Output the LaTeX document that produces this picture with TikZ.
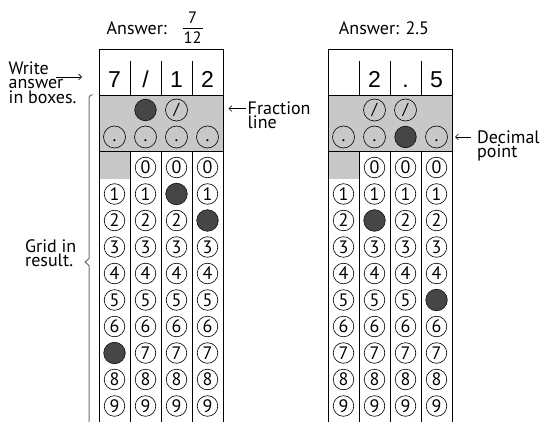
\documentclass[tikz,border=0pt]{standalone}
\usepackage{fontspec}
\setmainfont{PT Sans}
\newfontfamily\boxfont{Liberation Sans}
\usetikzlibrary{arrows.meta}
\definecolor{gridgray}{RGB}{200,200,200}
\definecolor{dotfill}{RGB}{70,70,70}
\definecolor{bracegray}{RGB}{110,110,110}
\tikzset{
  gridline/.style={line width=0.8pt, black},
  bub/.style={circle, draw=black, line width=0.6pt, minimum size=20.6pt, inner sep=0pt, font=\fontsize{18}{18}\selectfont},
  bigbub/.style={bub, minimum size=22pt},
  filledbub/.style={circle, draw=black, line width=0.5pt, fill=dotfill, minimum size=21.6pt, inner sep=0pt},
  ansdig/.style={anchor=base, inner sep=0pt, font=\boxfont\fontsize{23}{23}\selectfont},
  lbl/.style={align=left, inner sep=0pt, font=\fontsize{18}{14.5}\selectfont},
  ttl/.style={inner sep=0pt, font=\fontsize{18}{18}\selectfont},
  fracdig/.style={inner sep=0pt, anchor=base, font=\fontsize{16.5}{16.5}\selectfont},
  lblarrow/.style={line width=0.6pt, -{Straight Barb[length=3pt,width=6pt]}},
}
\newcommand\gridsheet[6]{%
  % #1 x0, #2 prefix, #3 answer c/text, #4 digit fills c/d, #5 filled slash col, #6 filled dot col
  \fill[gridgray] (#1,95.5) rectangle ++(124,55.5);
  \fill[gridgray] (#1,151) rectangle ++(31,28.5);
  \draw[gridline] (#1,422) -- (#1,49) -- (#1+124,49) -- (#1+124,422);
  \draw[gridline] (#1,95.5) -- ++(124,0) (#1,151) -- ++(124,0);
  \foreach \k in {1,2,3}{
    \draw[gridline] (#1+31*\k,61) -- (#1+31*\k,95.5) (#1+31*\k,151) -- (#1+31*\k,422);
  }
  \foreach \c/\t in {#3}{
    \node[ansdig] (#2-a\c) at (#1+15.5+31*\c,87.5) {\t};
  }
  \foreach \c in {1,2}{
    \ifnum\c=#5
      \node[filledbub] (#2-s\c) at (#1+15.5+31*\c,110) {};
    \else
      \node[bigbub, font=\fontsize{16}{16}\selectfont] (#2-s\c) at (#1+15.5+31*\c,110) {/};
    \fi
  }
  \foreach \c in {0,1,2,3}{
    \ifnum\c=#6
      \node[filledbub] (#2-p\c) at (#1+15.5+31*\c,137) {};
    \else
      \node[bigbub] (#2-p\c) at (#1+15.5+31*\c,137) {\vphantom{x}.};
    \fi
  }
  \foreach \c/\fd in {#4}{
    \foreach \d in {0,...,9}{
      \pgfmathtruncatemacro\skipit{(\d==0)&&(\c==0)}
      \ifnum\skipit=0
        \ifnum\d=\fd
          \node[filledbub] (#2-\c-\d) at (#1+15.5+31*\c,167.5+26.5*\d) {};
        \else
          \node[bub] (#2-\c-\d) at (#1+15.5+31*\c,167.5+26.5*\d) {\d};
        \fi
      \fi
    }
  }
}
\begin{document}
\begin{tikzpicture}[x=1pt,y=-1pt]
\useasboundingbox (0,0) rectangle (546,422);
% titles
\node[ttl, anchor=base west] (ans1) at (106.5,34.3) {Answer:};
\node[fracdig] (num) at (192.5,24) {7};
\node[fracdig] (den) at (192.5,43.3) {12};
\draw[line width=0.8pt] (182.7,28.7) -- (202.7,28.7);
\node[ttl, anchor=base] (ans2) at (384,34.3) {Answer: 2.5};
% grids
\gridsheet{99}{L}{0/7,1/{/},2/1,3/2}{0/7,1/-1,2/1,3/2}{1}{-1}
\gridsheet{328}{R}{1/2,2/.,3/5}{0/-1,1/2,2/-1,3/5}{-1}{2}
% left labels
\node[lbl, anchor=north west] (write) at (8.5,61.5) {Write\\answer\\in boxes.};
\coordinate (wstart) at (56,77);
\coordinate (wend) at (82,77);
\draw[lblarrow] (wstart) -- (wend);
\node[lbl, anchor=north west] (gridin) at (25,239) {Grid in\\result.};
% brace
\draw[bracegray, line width=1pt] (92.5,94.5) .. controls (89.5,95) and (89,96.5) .. (89,100) -- (89,258.5) -- (85,262) -- (89,265.5) -- (89,422);
% fraction line label
\node[lbl, anchor=north west] (frac) at (247.5,101.5) {Fraction\\line};
\coordinate (fstart) at (245.5,108.5);
\coordinate (fend) at (228.5,108.5);
\draw[lblarrow] (fstart) -- (fend);
% decimal point label
\node[lbl, anchor=north west] (dec) at (477,130.5) {Decimal\\point};
\coordinate (dstart) at (471,137);
\coordinate (dend) at (455,137);
\draw[lblarrow] (dstart) -- (dend);
\end{tikzpicture}
\end{document}
